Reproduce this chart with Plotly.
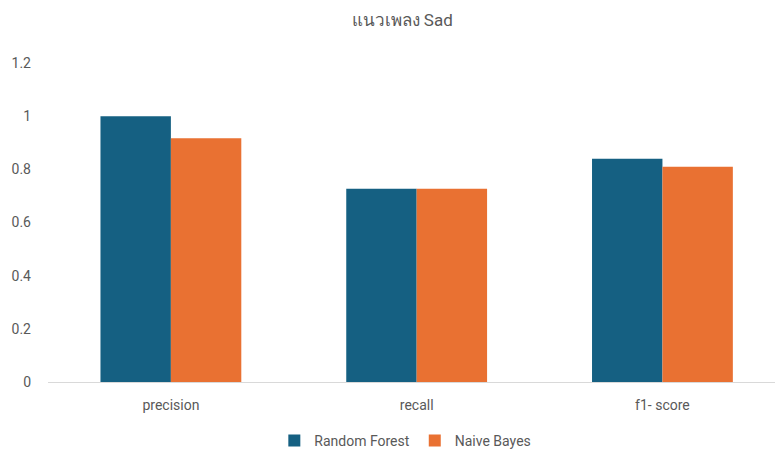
import plotly.graph_objects as go

# Data
metrics = ['precision', 'recall', 'f1- score']
random_forest = [1.0, 0.727, 0.84]
naive_bayes = [0.917, 0.727, 0.81]
y_ticks = [0, 0.2, 0.4, 0.6, 0.8, 1, 1.2]
y_labels = ['0', '0.2', '0.4', '0.6', '0.8', '1', '1.2']

grey = '#595959'

fig = go.Figure()
fig.add_trace(go.Bar(x=metrics, y=random_forest, name='Random Forest',
                     marker_color='#156082', marker_line_width=0))
fig.add_trace(go.Bar(x=metrics, y=naive_bayes, name='Naive Bayes',
                     marker_color='#E97132', marker_line_width=0))

fig.update_layout(
    width=775, height=450,
    barmode='group', bargap=0.427, bargroupgap=0,
    plot_bgcolor='white', paper_bgcolor='white',
    font=dict(family='Roboto, Noto Sans, sans-serif', color=grey, size=14),
    margin=dict(l=48, r=0, t=63, b=68),
    title=dict(text='แนวเพลง Sad', x=0.519, xref='container', xanchor='center',
               y=0.955, yanchor='middle', font=dict(size=17, color=grey)),
    legend=dict(orientation='h', xref='container', yref='container',
                x=0.523, xanchor='center', y=0.02, yanchor='middle',
                font=dict(size=14, color=grey)),
    showlegend=True,
)
fig.update_xaxes(range=[-0.5, 2.458], showline=True, linecolor='#D9D9D9', linewidth=1,
                 ticks='', showgrid=False, automargin=False, ticklabelstandoff=10,
                 tickfont=dict(size=14, color=grey))
fig.update_yaxes(range=[0, 1.2], tickvals=y_ticks, ticktext=y_labels, showgrid=False,
                 zeroline=False, showline=False, ticks='', ticklabelstandoff=16,
                 automargin=False, tickfont=dict(size=14, color=grey))

# drop the default page margin so the figure sits at the window's corner
fig.write_html("out.html", config={'displayModeBar': False},
               post_script="document.body.style.margin='0';")
